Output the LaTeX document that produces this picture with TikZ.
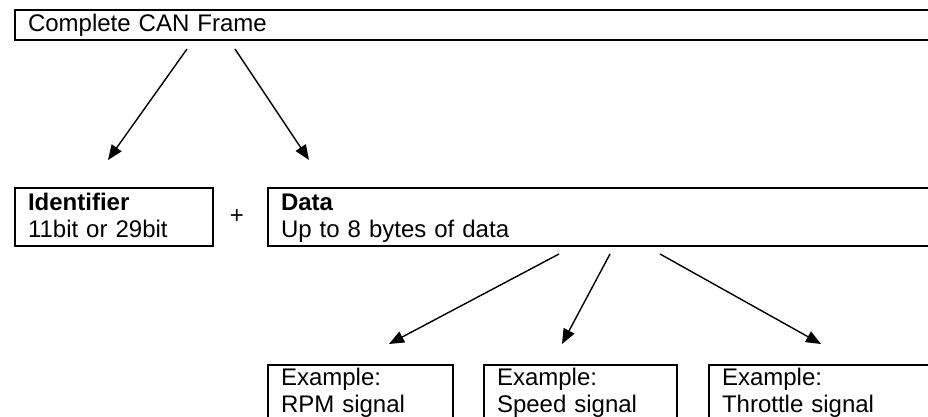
\documentclass[tikz,border=0pt]{standalone}
\usepackage{fontspec}
\setmainfont{Liberation Sans}
\usepackage{tikz}
\usetikzlibrary{arrows.meta,positioning}
\newcommand{\bodyfont}{\fontsize{24}{27.5}\selectfont}

\begin{document}
\begin{tikzpicture}[
  x=1pt,y=-1pt,
  cell/.style={rectangle,draw,line width=2pt,align=left,inner xsep=13pt,inner ysep=0pt,font=\bodyfont,text height=22pt,text depth=36pt},
  lowcell/.style={cell,text height=20pt,text depth=47pt},
  arrow/.style={-{Triangle[length=15pt,width=12pt]},line width=1.4pt}
]
  \clip (0,0) rectangle (928,417);
  \node[cell,anchor=north west,text width=914pt,text height=22pt,text depth=8pt] (frame) at (14,9) {Complete CAN Frame};

  \node[cell,text width=172pt,below right=146pt and 0pt of frame.south west] (ident) {\textbf{Identifier}\\11bit or 29bit};
  \node[cell,text width=674pt,below right=0pt and 53pt of ident.north east] (data) {\textbf{Data}\\Up to 8 bytes of data};
  \node[font=\bodyfont,inner sep=0pt] (plus) at ([xshift=23pt]ident.east) {+};

  \node[lowcell,text width=159pt,below right=117pt and 0pt of data.south west] (rpm) {Example:\\RPM signal};
  \node[lowcell,text width=167pt,below right=0pt and 29pt of rpm.north east] (speed) {Example:\\Speed signal};
  \node[lowcell,text width=224pt,below right=0pt and 30pt of speed.north east] (throttle) {Example:\\Throttle signal};

  \draw[arrow] ([shift={(173,8)}]frame.south west) -- ([shift={(94,-27)}]ident.north west);
  \draw[arrow] ([shift={(221,8)}]frame.south west) -- ([shift={(42,-27)}]data.north west);
  \draw[arrow] ([shift={(292,7)}]data.south west) -- ([shift={(122,-20)}]rpm.north west);
  \draw[arrow] ([shift={(343,7)}]data.south west) -- ([shift={(79,-20)}]speed.north west);
  \draw[arrow] ([shift={(393,7)}]data.south west) -- ([shift={(113,-20)}]throttle.north west);
\end{tikzpicture}
\end{document}
